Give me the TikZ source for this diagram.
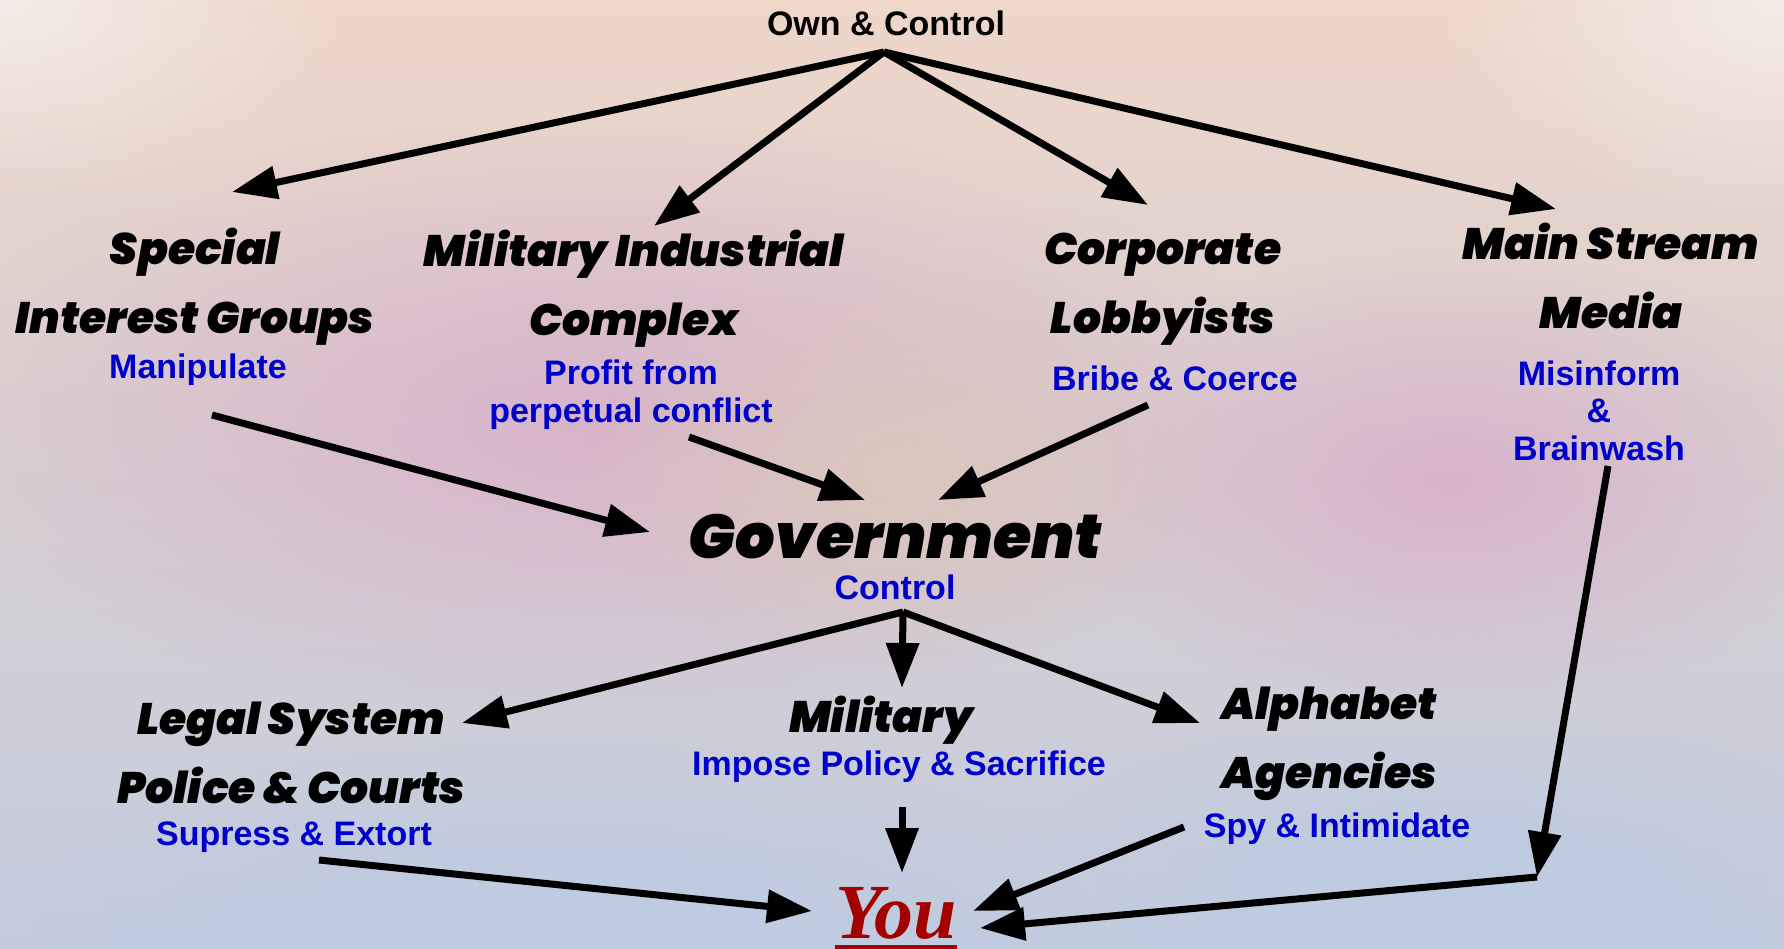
\documentclass[tikz,border=0pt]{standalone}
\usepackage{fontspec}
\setmainfont{Liberation Sans}
\IfFontExistsTF{Poppins Black Italic}
  {\newfontfamily\headfam{Poppins Black Italic}\newcommand\headfont{\headfam}}
  {\newfontfamily\headfam{Poppins}[BoldItalicFeatures={FakeBold=1.5}]\newcommand\headfont{\headfam\bfseries\itshape}}
\newfontfamily\youfont{Liberation Serif}
\usetikzlibrary{arrows.meta,fadings}

\definecolor{subblue}{HTML}{0000CC}
\definecolor{youred}{HTML}{A30000}
\definecolor{bgtop}{HTML}{EED6C8}
\definecolor{bgmid}{HTML}{D8C3C4}
\definecolor{bgbot}{HTML}{C3CBDE}
\definecolor{bgpink}{HTML}{D7B3CA}
\definecolor{bgblue}{HTML}{BCCBE2}
\definecolor{bglight}{HTML}{F4ECE8}
\definecolor{bgbeige}{HTML}{DBC7BC}

\tikzfading[name=softblob, inner color=transparent!0, outer color=transparent!100]
\newcommand\youline[1]{\vtop{\hbox{#1}\kern6pt\hrule height 5pt}}

\begin{document}
\begin{tikzpicture}[
  x=1pt, y=-1pt,
  head/.style={font=\headfont\fontsize{44}{69}\selectfont,
               align=center, anchor=base, inner sep=0pt},
  sub/.style={font=\bfseries\fontsize{34}{37.5}\selectfont, text=subblue,
              align=center, anchor=base, inner sep=0pt},
  arrow/.style={-{Triangle[length=45pt,width=32pt]}, line width=7pt},
  blob/.style={fill=#1, path fading=softblob}
]
% background
\useasboundingbox (0,0) rectangle (1784,949);
\shade[top color=bgtop, middle color=bgmid, bottom color=bgbot] (0,0) rectangle (1784,949);
\fill[blob=bgpink] (600,420) ellipse [x radius=700pt, y radius=300pt];
\fill[blob=bgpink] (1450,480) ellipse [x radius=420pt, y radius=230pt];
\fill[blob=bgbeige] (900,470) ellipse [x radius=320pt, y radius=200pt];
\fill[blob=bgblue] (560,940) ellipse [x radius=600pt, y radius=200pt];
\fill[blob=bgblue] (1450,890) ellipse [x radius=450pt, y radius=180pt];
\fill[blob=bglight] (0,0) ellipse [x radius=350pt, y radius=200pt];
\fill[blob=bglight] (1784,0) ellipse [x radius=350pt, y radius=220pt];

% top level
\node[font=\bfseries\fontsize{34}{40}\selectfont, anchor=base, inner sep=0pt] (own) at (886,36) {Own \& Control};
\coordinate (ownhub) at ([shift={(-2,16)}]own.base);

\node[head] (sig) at (195,333) {Special\\Interest Groups};
\node[sub] (sigsub) at ([shift={(3,45)}]sig.base) {Manipulate};
\node[head] (mic) at (634,335) {Military Industrial\\Complex};
\node[sub] (micsub) at ([shift={(-3,87)}]mic.base) {Profit from\\perpetual conflict};
\node[head] (lob) at (1163,333) {Corporate\\Lobbyists};
\node[sub] (lobsub) at ([shift={(12,57)}]lob.base) {Bribe \& Coerce};
\node[head] (msm) at (1611,328) {Main Stream\\Media};
\node[sub] (msmsub) at ([shift={(-12,132)}]msm.base) {Misinform\\\&\\Brainwash};

% government
\node[head, font=\headfont\fontsize{62}{70}\selectfont] (gov) at (895,558) {Government};
\node[sub] (govsub) at ([shift={(0,41)}]gov.base) {Control};
\coordinate (govhub) at ([shift={(8,13)}]govsub.base);

\node[head] (legal) at (291,803) {Legal System\\Police \& Courts};
\node[sub] (legalsub) at ([shift={(3,42)}]legal.base) {Supress \& Extort};
\node[head] (mil) at (881,732) {Military};
\node[sub] (milsub) at ([shift={(18,43)}]mil.base) {Impose Policy \& Sacrifice};
\node[head] (abc) at (1329,788) {Alphabet\\Agencies};
\node[sub] (abcsub) at ([shift={(8,49)}]abc.base) {Spy \& Intimidate};

\node[font=\youfont\bfseries\itshape\fontsize{78}{80}\selectfont, text=youred, anchor=base, inner sep=0pt] (you) at (896,938) {\youline{You}};
\coordinate (bend) at (1537,877);

\draw[arrow] (ownhub) -- ([shift={(37,-141)}]sig.base);
\draw[arrow] (ownhub) -- ([shift={(20,-109)}]mic.base);
\draw[arrow] (ownhub) -- ([shift={(-15,-128)}]lob.base);
\draw[arrow] (ownhub) -- ([shift={(-55,-119)}]msm.base);

\draw[arrow] ([shift={(14,37)}]sigsub.base) -- ([shift={(-245,-26)}]gov.base);
\draw[arrow] ([shift={(58,15)}]micsub.base) -- ([shift={(-30,-58)}]gov.base);
\draw[arrow] ([shift={(-27,15)}]lobsub.base) -- ([shift={(43,-58)}]gov.base);

\draw[arrow] (govhub) -- ([shift={(171,-80)}]legal.base);
\draw[arrow] (govhub) -- ([shift={(21,-44)}]mil.base);
\draw[arrow] (govhub) -- ([shift={(-129,-65)}]abc.base);

\draw[arrow] ([shift={(25,15)}]legalsub.base) -- ([shift={(-84,-27)}]you.base);
\draw[arrow] ([shift={(3,32)}]milsub.base) -- ([shift={(6,-65)}]you.base);
\draw[arrow] ([shift={(-153,-10)}]abcsub.base) -- ([shift={(77,-27)}]you.base);
\draw[arrow] ([shift={(9,6)}]msmsub.base) -- (bend);
\draw[arrow] (bend) -- ([shift={(84,-10)}]you.base);
\end{tikzpicture}
\end{document}
